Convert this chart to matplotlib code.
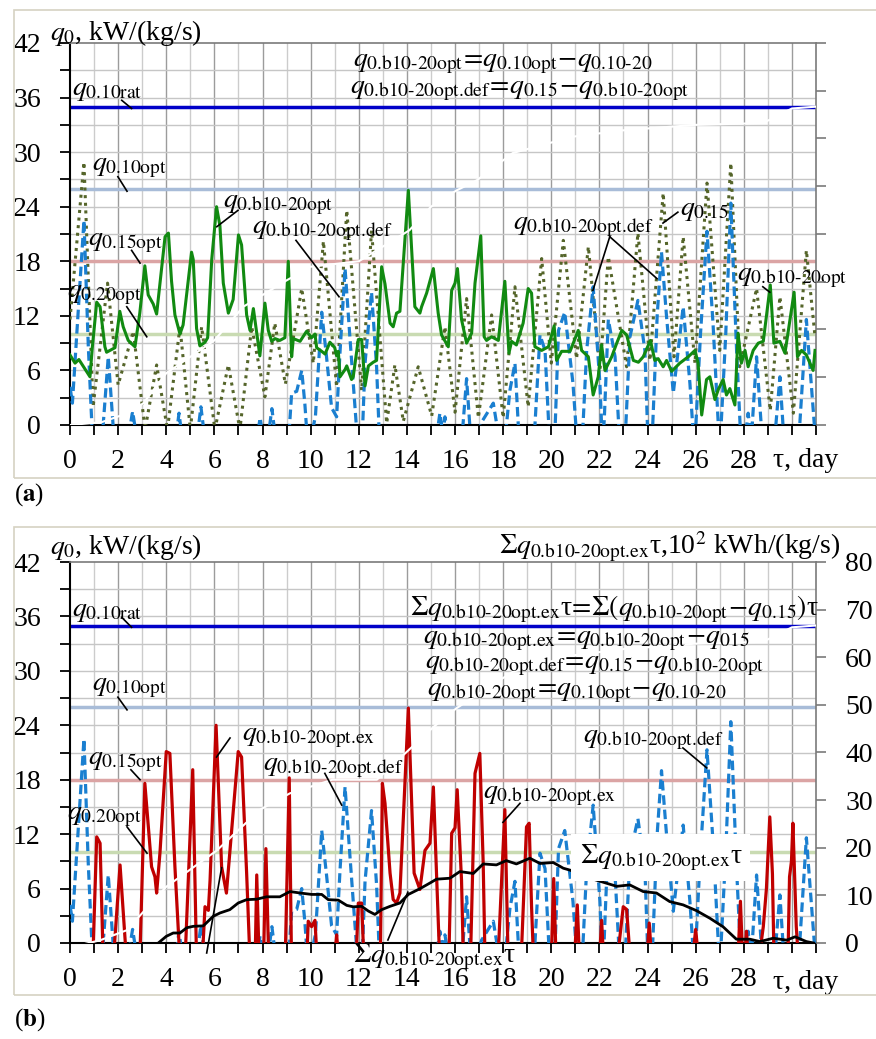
import matplotlib
matplotlib.use('Agg')
import matplotlib.pyplot as plt
from matplotlib.patches import Rectangle

plt.rcParams['font.family'] = ['Liberation Serif', 'DejaVu Serif']
plt.rcParams['mathtext.fontset'] = 'stix'

# ---- data (day, value) ----
# q0.b10-20opt  (green, kW/(kg/s))
opt_pts = [(0, 7.7), (0.21, 6.8), (0.37, 7.2), (0.83, 5.3), (0.93, 8.6), (1.11, 13.5), (1.25, 13.0),
           (1.45, 8.6), (1.52, 8.0), (1.87, 8.5), (2.07, 12.5), (2.21, 10.8), (2.42, 9.3), (2.7, 8.6),
           (2.9, 12.3), (3.11, 17.5), (3.25, 14.3), (3.46, 13.3), (3.6, 12.2), (3.95, 20.7), (4.09, 21.1),
           (4.22, 15.8), (4.36, 12.1), (4.57, 10.0), (4.7, 11.0), (5.05, 19.0), (5.12, 18.2), (5.26, 10.6),
           (5.4, 8.7), (5.61, 9.1), (5.72, 9.6), (5.89, 18.2), (6.09, 24.0), (6.23, 21.9), (6.37, 15.6),
           (6.58, 12.3), (6.78, 13.8), (7.0, 20.9), (7.13, 19.8), (7.34, 12.1), (7.48, 10.4), (7.62, 12.8),
           (7.89, 7.6), (8.1, 13.4), (8.24, 10.4), (8.38, 9.2), (8.52, 9.5), (8.72, 9.3), (8.93, 9.6),
           (9.07, 18.0), (9.21, 7.5), (9.28, 9.5), (9.56, 9.2), (9.83, 10.3), (10.04, 9.6), (10.18, 10.0),
           (10.25, 8.5), (10.46, 8.1), (10.6, 7.8), (10.8, 9.1), (11.0, 8.5), (11.08, 7.6), (11.15, 8.1),
           (11.22, 5.3), (11.43, 6.1), (11.5, 6.5), (11.7, 5.0), (11.77, 5.3), (11.98, 9.4), (12.12, 9.4),
           (12.26, 4.3), (12.4, 6.5), (12.6, 6.9), (12.74, 7.1), (12.95, 17.4), (13.09, 15.5), (13.3, 11.2),
           (13.43, 10.8), (13.57, 12.3), (13.71, 12.5), (14.06, 25.8), (14.2, 19.2), (14.33, 13.0),
           (14.54, 12.3), (14.61, 13.0), (14.82, 14.5), (15.1, 17.2), (15.3, 12.3), (15.44, 9.9),
           (15.72, 8.6), (15.86, 14.8), (16.0, 15.6), (16.1, 17.2), (16.27, 11.6), (16.48, 9.0),
           (16.69, 10.1), (16.83, 15.6), (17.07, 20.8), (17.21, 9.7), (17.31, 9.3), (17.52, 9.7),
           (17.8, 9.3), (18.07, 15.8), (18.24, 7.9), (18.35, 9.2), (18.55, 8.8), (18.83, 11.2),
           (19.04, 15.0), (19.18, 14.5), (19.32, 8.6), (19.6, 8.2), (19.88, 8.6), (20.12, 10.9),
           (20.22, 7.1), (20.43, 8.1), (20.78, 8.1), (21.12, 10.4), (21.26, 8.2), (21.54, 7.5),
           (21.74, 3.3), (21.95, 5.3), (22.09, 8.8), (22.23, 6.0), (22.51, 7.5), (22.72, 9.0),
           (22.93, 10.4), (23.13, 9.9), (23.41, 7.1), (23.62, 6.9), (23.82, 7.5), (24.12, 9.3),
           (24.3, 7.1), (24.44, 7.3), (24.65, 6.4), (24.79, 7.1), (25.0, 5.9), (25.34, 6.8), (25.69, 7.5),
           (25.97, 8.2), (26.1, 6.8), (26.25, 1.1), (26.45, 5.0), (26.59, 5.3), (26.8, 2.8), (26.94, 3.9),
           (27.14, 5.0), (27.28, 3.3), (27.42, 4.0), (27.63, 2.2), (27.76, 10.1), (27.9, 6.8), (28.05, 8.2),
           (28.18, 6.4), (28.39, 8.2), (28.6, 9.0), (28.81, 9.2), (29.1, 15.4), (29.25, 9.0), (29.5, 9.2),
           (29.71, 7.9), (29.92, 11.6), (30.09, 14.6), (30.23, 7.5), (30.4, 8.2), (30.6, 7.7),
           (30.88, 6.0), (30.96, 8.2)]

# q0.15 (olive dotted)
q15_pts = [(0, 11.6), (0.58, 28.9), (0.96, 2.0), (1.56, 15.6), (2.0, 4.4), (2.63, 10.3), (3.12, -0.5),
           (3.6, 6.6), (4.05, -0.5), (4.57, 10.8), (5.0, -0.5), (5.47, 10.8), (6.02, -0.5), (6.58, 6.6),
           (7.06, -0.5), (7.55, 10.8), (8.1, 3.1), (8.51, 11.2), (8.95, 4.5), (9.63, 15.0), (10.11, 6.8),
           (10.53, 20.2), (11.08, 4.2), (11.5, 23.6), (12.12, 3.8), (12.53, 21.4), (13.16, 0.2),
           (13.5, 6.6), (13.85, 0.4), (14.47, 6.4), (15.03, 1.0), (15.58, 10.8), (16.0, 1.4),
           (16.48, 13.9), (16.97, 0.8), (17.52, 12.1), (18.0, 0.8), (18.49, 15.2), (19.04, 2.0),
           (19.6, 18.3), (20.0, 6.8), (20.5, 20.3), (21.05, 7.3), (21.54, 19.6), (22.02, 6.0),
           (22.37, 18.5), (23.13, 6.4), (23.6, 21.1), (24.1, 7.1), (24.65, 25.5), (25.1, 7.5),
           (25.48, 20.7), (25.97, 6.8), (26.47, 26.6), (27.0, 8.2), (27.46, 28.8), (27.83, 6.4),
           (28.53, 15.0), (29.1, 1.6), (29.5, 14.1), (30.06, 1.3), (30.6, 19.2), (30.96, 9.7)]

# q0.b10-20opt.def (blue dashed)
def_pts = [(0, 4.2), (0.1, 2.4), (0.58, 22.5), (0.76, 8.7), (0.96, -3), (1.35, -1), (1.59, 7.5),
           (1.87, -3), (2.45, -1), (2.6, 1.5), (2.75, -1), (4.42, -1), (4.53, 1.3), (4.64, -1),
           (5.3, -1), (5.44, 2.0), (5.58, -1), (7.8, -1), (7.9, 0.8), (8.0, -1), (8.25, -1), (8.39, 1.8),
           (8.52, -1), (9.1, -1), (9.21, 3.5), (9.42, 3.7), (9.63, 6.0), (9.76, 2.3), (9.9, -3),
           (10.2, 1), (10.46, 12.4), (10.66, 7.5), (10.87, 1.9), (11.08, 0.9), (11.22, 8), (11.43, 17.2),
           (11.63, 9.7), (11.77, 4.6), (11.98, -3), (12.15, -1), (12.26, 6.8), (12.53, 14.6), (12.74, 6.4),
           (12.88, -3), (15.25, -1), (15.37, 1.3), (15.5, -1), (15.58, 0.9), (15.7, -1), (16.3, -1),
           (16.48, 5.1), (16.69, -3), (16.95, -1), (17.1, 0.3), (17.59, 2.4), (17.86, -2), (18.1, -1),
           (18.28, 3.8), (18.49, 6.8), (18.69, -3), (19.3, -1), (19.53, 9.9), (19.74, 8.2), (19.95, -3),
           (20.15, -1), (20.3, 10.4), (20.56, 12.4), (20.9, 4.6), (21.1, -3), (21.3, -1), (21.47, 8.2),
           (21.74, 15.2), (22.02, 4.6), (22.12, -2), (22.2, 0.5), (22.37, 11.6), (22.65, 7.5),
           (22.86, -3), (23.08, -1), (23.27, 9.7), (23.6, 13.7), (23.89, 8.2), (24.02, -2), (24.2, -1),
           (24.4, 12.0), (24.58, 19.0), (24.79, 11.9), (25.07, 3.5), (25.48, 13.0), (25.76, 4.6),
           (25.95, -3), (26.2, 10), (26.47, 21.3), (26.72, 11.2), (27.0, -3), (27.25, 10), (27.46, 24.4),
           (27.7, 8.2), (27.9, -3), (28.08, -1), (28.18, 1.3), (28.28, -1), (28.35, 0), (28.53, 7.5),
           (28.8, -3), (29.3, -1), (29.5, 5.3), (29.7, -3), (30.3, -1), (30.6, 11.6), (30.96, -1)]

# q0.b10-20opt.ex (red)
ex_pts = [(0.9, -2), (0.97, 0), (1.11, 11.7), (1.25, 11.0), (1.38, -2), (1.8, -2), (2.08, 8.6),
          (2.35, -2), (2.9, -2), (3.11, 17.6), (3.39, 8.4), (3.53, 7.3), (3.6, 5.5), (3.74, 10),
          (4.0, 21.1), (4.15, 20.9), (4.36, 8.4), (4.57, -2), (4.78, -2), (5.1, 19.1), (5.26, -2),
          (5.5, -1), (5.54, 0.4), (5.61, 4.0), (5.75, 3.6), (5.82, 6.9), (6.07, 24.0), (6.3, 8.4),
          (6.5, 5.5), (6.99, 21.1), (7.13, 20.5), (7.34, 7.7), (7.48, -2), (7.7, -1), (7.76, 7.5),
          (7.85, -1), (8.05, -1), (8.14, 10.4), (8.25, -1), (8.95, -1), (9.11, 18.2), (9.2, -1),
          (9.85, -1), (9.9, 2.4), (10.04, 1.8), (10.18, 2.5), (10.25, -1), (11.02, -1), (11.08, 0.9),
          (11.14, -1), (11.9, -1), (11.98, 4.4), (12.12, 4.4), (12.2, -1), (12.9, -1), (12.98, 17.6),
          (13.09, 15.4), (13.3, 7.7), (13.43, 4.8), (13.57, 4.4), (13.71, 5.5), (14.06, 25.9),
          (14.3, 7.7), (14.54, 5.9), (14.75, 10.2), (14.96, 11.0), (15.1, 17.2), (15.23, 7.7),
          (15.35, -1), (15.75, -1), (15.86, 12.1), (16.0, 12.7), (16.09, 16.9), (16.27, 6.9),
          (16.34, -1), (16.65, -1), (16.83, 18.7), (17.03, 20.9), (17.17, 8.8), (17.24, -1), (17.8, -1),
          (18.07, 14.7), (18.2, -1), (18.76, -1), (18.97, 12.8), (19.08, 13.2), (19.18, 4.0),
          (19.25, -1), (20.01, -1), (20.1, 7.1), (20.19, -1), (20.98, -1), (21.08, 4.2), (21.16, -1),
          (22.02, -1), (22.09, 2.5), (22.16, -1), (22.78, -1), (22.99, 4.0), (23.13, 3.7), (23.26, -1),
          (23.99, -1), (24.07, 2.2), (24.15, -1), (25.9, -1), (26.0, 1.5), (26.09, -1), (27.77, -1),
          (27.86, 4.6), (27.94, -1), (28.06, -1), (28.11, 1.3), (28.17, -1), (28.67, -1), (28.81, 1.8),
          (28.94, 6.0), (29.08, 13.9), (29.19, 7.6), (29.25, -1), (29.84, -1), (29.9, 7.3), (29.98, 9.0),
          (30.04, 13.2), (30.18, 1.8), (30.25, -1)]

# cumulative excess, 10^2 kWh/(kg/s) (black, right axis)
cum_pts = [(3.67, 0), (4.0, 1.4), (4.29, 2.1), (4.57, 2.1), (4.85, 3.2), (5.12, 3.5), (5.54, 3.6),
           (5.95, 5.6), (6.23, 6.3), (6.64, 7.0), (6.99, 8.4), (7.34, 9.1), (7.76, 9.2), (8.17, 9.7),
           (8.72, 9.7), (9.14, 10.8), (9.56, 10.5), (10.04, 10.2), (10.46, 10.2), (10.73, 9.1),
           (11.15, 9.0), (11.5, 7.9), (11.77, 7.6), (12.12, 7.7), (12.4, 6.7), (12.67, 6.0), (12.95, 7.0),
           (13.3, 7.7), (13.71, 8.4), (14.06, 10.2), (14.54, 11.4), (14.96, 12.6), (15.23, 13.4),
           (15.79, 13.6), (16.2, 15.0), (16.76, 14.6), (17.17, 16.6), (17.72, 16.4), (18.13, 17.3),
           (18.55, 16.6), (19.11, 17.8), (19.53, 16.7), (20.08, 16.9), (20.5, 15.7), (20.78, 15.3),
           (21.61, 13.6), (22.72, 11.9), (23.26, 12.2), (23.82, 10.8), (24.37, 10.5), (24.92, 8.7),
           (25.48, 8.0), (26.03, 6.8), (26.59, 5.2), (27.14, 3.4), (27.69, 0.8), (28.25, 0.8),
           (28.67, 0.3), (29.22, 1.0), (29.78, 0.6), (30.13, 1.3), (30.6, 0.3), (30.9, 0)]

# faint white trace crossing both panels
white_a = [(0, 0), (1.3, 0.3), (2.4, 1.3), (3.05, 2.4), (4.0, 5.7), (6.0, 9.3), (7.2, 13.0), (9.0, 15.9),
           (10.0, 17.4), (12.0, 18.0), (14.1, 21.4), (15.0, 24.0), (16.07, 25.8), (16.9, 26.9),
           (18.4, 29.9), (20.9, 31.7), (23.0, 32.4), (26.0, 33.0), (28.8, 33.2), (30.0, 34.8), (31, 35)]
white_b = [(0, -0.5), (1.25, 0.3), (2.35, 1.4), (4.0, 6.2), (6.1, 10.2), (7.9, 14.7), (9.14, 16.5),
           (10.9, 18.0), (12.75, 18.0), (15.1, 23.8), (16.07, 25.9), (18.4, 29.9), (20.9, 31.7),
           (23.0, 32.4), (26.0, 33.0), (28.8, 33.2), (30.0, 34.8), (31, 35)]

q10_rat, q10_opt, q15_opt, q20_opt = 35, 26, 18, 10

t_opt, v_opt = zip(*opt_pts)
t_15, v_15 = zip(*q15_pts)
t_def, v_def = zip(*def_pts)
t_ex, v_ex = zip(*ex_pts)
t_cum, v_cum = zip(*cum_pts)

W, H = 876, 1039
fig = plt.figure(figsize=(W / 100, H / 100), dpi=100)
FS = 20
TAU = '\u03c4'
EQ = r'\!=\!'
MI = r'\!-\!'


def q(sub):
    # \text keeps the subscript as plain text (no math spacing after dots, real hyphens)
    return r'q_{\text{' + sub + '}}'


def m(s):
    return '$' + s + '$'


def P(x, y):
    return x / W, 1 - y / H


def base(rect, right_labels):
    ax = fig.add_axes(rect)
    ax.set_xlim(0, 31)
    ax.set_ylim(0, 42)
    for d in range(1, 31):
        ax.axvline(d, color='#9c9c9c' if d % 2 == 0 else '#cccccc', lw=1, zorder=0.5)
    for v in range(3, 42, 3):
        ax.axhline(v, color='#c6c6c6', lw=1, zorder=0.5)
    ax.axhline(q10_rat, color='#0000c8', lw=2.5, zorder=2)
    ax.axhline(q10_opt, color='#a8bcd8', lw=2.5, zorder=2)
    ax.axhline(q15_opt, color='#dba4a4', lw=2.5, zorder=2)
    ax.axhline(q20_opt, color='#c9dbb2', lw=2.5, zorder=2)
    ax.set_xticks(range(0, 32))
    ax.set_xticklabels([str(d) if d % 2 == 0 and d <= 28 else '' for d in range(32)])
    ax.set_yticks(range(0, 43, 3))
    ax.set_yticklabels([str(v) if v % 6 == 0 else '' for v in range(0, 43, 3)])
    ax.tick_params(direction='out', length=7, width=1.3, labelsize=FS, pad=10)
    ax.tick_params(axis='y', pad=14)
    ax.spines['left'].set_linewidth(1.5)
    ax.spines['bottom'].set_linewidth(1.5)
    for s in ('top', 'right'):
        ax.spines[s].set_color('#7a7a7a')
        ax.spines[s].set_linewidth(1.2)
    ax2 = ax.twinx()
    ax2.set_ylim(0, 80)
    ax2.set_yticks(range(0, 81, 10))
    ax2.tick_params(direction='out', length=7, width=1.2, color='#7a7a7a', labelsize=FS, pad=14,
                    labelright=right_labels)
    for s in ax2.spines.values():
        s.set_visible(False)
    return ax, ax2


def lab(ax, tr, x, y, s, **kw):
    ax.text(x, y, s, transform=tr, fontsize=FS, ha=kw.pop('ha', 'left'), va='center', zorder=8,
            clip_on=False, **kw)


def lead(ax, tr, x1, y1, x2, y2):
    ax.plot([x1, x2], [y1, y2], transform=tr, color='black', lw=1.2, zorder=8, clip_on=False)


sum_ex = m(r'\Sigma ' + q('0.b10-20opt.ex')) + TAU

# panel frames
for y0, y1 in ((10, 478), (527, 995)):
    fig.add_artist(Rectangle(P(14, y1), (W + 10 - 14) / W, (y1 - y0) / H, transform=fig.transFigure,
                             fill=False, edgecolor='#d6d2c2', lw=1.2))

# ---------------- (a) ----------------
ax, ax2 = base([70 / W, 1 - 425 / H, 746 / W, 382 / H], False)
ax.plot(t_15, v_15, color='#55652a', lw=2.2, linestyle=(0, (1, 1.5)), zorder=3)
ax.plot(t_def, v_def, color='#1a7fd0', lw=2.3, linestyle=(0, (3, 1.5)), zorder=4)
ax.plot(t_opt, v_opt, color='#118a11', lw=2.2, zorder=5)
wx, wy = zip(*white_a)
ax.plot(wx, wy, color='white', lw=1.5, zorder=6)
tr = ax.transData
lab(ax, tr, 0.08, 36.8, m(q('0.10rat')))
lead(ax, tr, 2.15, 35.7, 2.56, 34.8)
lab(ax, tr, 0.91, 28.3, m(q('0.10opt')))
lead(ax, tr, 1.99, 27.3, 2.37, 25.7)
lab(ax, tr, 6.36, 24.2, m(q('0.b10-20opt')))
lead(ax, tr, 6.98, 23.6, 6.1, 21.8)
lab(ax, tr, 7.56, 21.4, m(q('0.b10-20opt.def')))
lead(ax, tr, 9.39, 20.3, 11.18, 14.1)
lab(ax, tr, 0.75, 20.1, m(q('0.15opt')))
lead(ax, tr, 2.56, 19.2, 2.91, 17.8)
lab(ax, tr, -0.12, 14.3, m(q('0.20opt')))
lead(ax, tr, 2.36, 13.0, 3.19, 9.7)
lab(ax, tr, 11.76, 39.8, m(q('0.b10-20opt') + EQ + q('0.10opt') + MI + q('0.10-20')))
lab(ax, tr, 11.63, 36.8, m(q('0.b10-20opt.def') + EQ + q('0.15') + MI + q('0.b10-20opt')))
lab(ax, tr, 25.34, 23.6, m(q('0.15')))
lead(ax, tr, 25.26, 23.4, 24.64, 22.2)
lab(ax, tr, 18.4, 21.8, m(q('0.b10-20opt.def')))
lead(ax, tr, 22.43, 20.7, 21.73, 14.8)
lead(ax, tr, 22.43, 20.7, 24.39, 16.1)
lab(ax, tr, 27.71, 16.2, m(q('0.b10-20opt')))
lead(ax, tr, 28.79, 15.2, 29.08, 14.6)
lab(ax, tr, 29.2, -3.85, TAU + ', day')
fig.text(*P(50, 33), r'$q_0$, kW/(kg/s)', fontsize=FS, ha='left', va='center')
fig.text(*P(14, 495), r'($\mathbf{a}$)', fontsize=18, ha='left', va='center')

# ---------------- (b) ----------------
bx, bx2 = base([70 / W, 1 - 943 / H, 746 / W, 381 / H], True)
bx.plot(t_def, v_def, color='#1a7fd0', lw=2.3, linestyle=(0, (3, 1.5)), zorder=4)
bx.plot(t_ex, v_ex, color='#c00000', lw=2.3, zorder=5)
bx2.plot(t_cum, v_cum, color='black', lw=2.0, zorder=3)
tr = bx.transData
wx, wy = zip(*white_b)
bx2.plot(wx, wy, transform=tr, color='white', lw=1.5, zorder=4)
lab(bx2, tr, 0.08, 36.5, m(q('0.10rat')))
lead(bx2, tr, 2.15, 35.9, 2.56, 34.8)
lab(bx2, tr, 0.91, 28.2, m(q('0.10opt')))
lead(bx2, tr, 1.99, 27.1, 2.37, 25.7)
lab(bx2, tr, 7.15, 22.6, m(q('0.b10-20opt.ex')))
lead(bx2, tr, 6.65, 22.6, 6.09, 20.5)
lead(bx2, tr, 6.3, 8.3, 5.68, -1.1)
lab(bx2, tr, 0.75, 20.0, m(q('0.15opt')))
lead(bx2, tr, 2.53, 19.1, 2.91, 18.0)
lab(bx2, tr, -0.12, 13.9, m(q('0.20opt')))
lead(bx2, tr, 2.37, 12.8, 3.2, 9.9)
lab(bx2, tr, 8.02, 19.4, m(q('0.b10-20opt.def')))
lead(bx2, tr, 10.59, 18.7, 11.29, 15.2)
lab(bx2, tr, 17.16, 16.3, m(q('0.b10-20opt.ex')))
lead(bx2, tr, 18.7, 15.4, 17.99, 13.3)
lab(bx2, tr, 21.31, 22.4, m(q('0.b10-20opt.def')))
lead(bx2, tr, 25.47, 21.5, 26.46, 19.3)
lab(bx2, tr, 14.13, 36.8, sum_ex + m(EQ + r'\Sigma(' + q('0.b10-20opt') + MI + q('0.15') + ')') + TAU)
lab(bx2, tr, 14.67, 33.4, m(q('0.b10-20opt.ex') + EQ + q('0.b10-20opt') + MI + q('015')))
lab(bx2, tr, 14.75, 30.6, m(q('0.b10-20opt.def') + EQ + q('0.15') + MI + q('0.b10-20opt')))
lab(bx2, tr, 14.83, 27.6, m(q('0.b10-20opt') + EQ + q('0.10opt') + MI + q('0.10-20')))
lab(bx2, tr, 24.55, 9.4, sum_ex, ha='center', bbox=dict(facecolor='white', edgecolor='none', pad=6))
lab(bx2, tr, 11.76, -1.54, sum_ex)
lead(bx2, tr, 13.21, 0.33, 14.04, 5.6)
lab(bx2, tr, 29.2, -4.4, TAU + ', day')
fig.text(*P(50, 547), r'$q_0$, kW/(kg/s)', fontsize=FS, ha='left', va='center')
fig.text(*P(840, 547), sum_ex + r',10$^2$ kWh/(kg/s)', fontsize=FS, ha='right', va='center')
fig.text(*P(14, 1020), r'($\mathbf{b}$)', fontsize=18, ha='left', va='center')

fig.savefig('out.png', dpi=100)
